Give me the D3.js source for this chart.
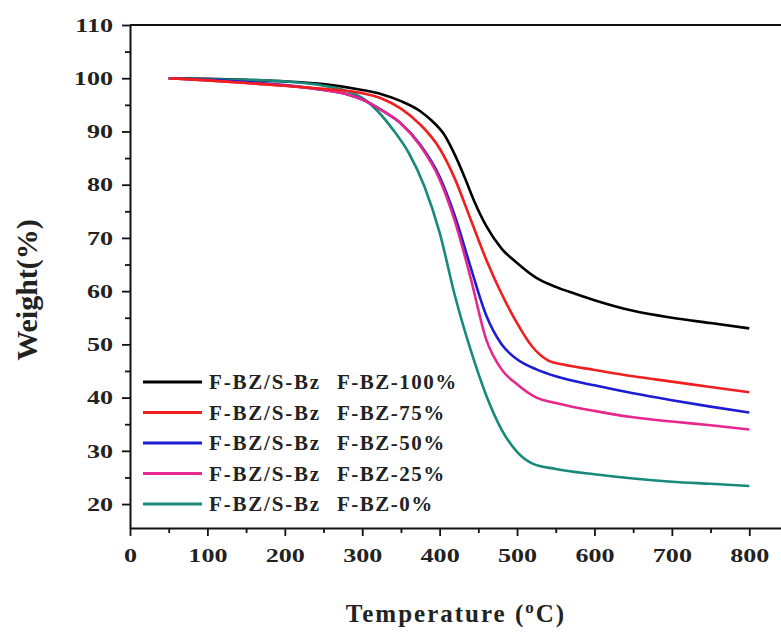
<!DOCTYPE html>
<html>
<head>
<meta charset="utf-8">
<script src="https://cdn.jsdelivr.net/npm/d3@7"></script>
<style>
  body { margin: 0; background: #fff; }
  svg { display: block; }
  text { font-family: "Liberation Serif", "Times New Roman", serif; font-weight: bold; fill: #222; }
</style>
</head>
<body>
<svg width="781" height="633"></svg>
<script>
// temperature (C) and weight (%)
const temps100 = [50, 100, 150, 200, 250, 300, 325, 350, 375, 390, 405, 420, 432, 445, 460, 480, 500, 525, 550, 575, 600, 650, 700, 750, 800];
const weight100 = [100, 99.9, 99.7, 99.4, 98.9, 97.8, 97, 95.7, 93.8, 92, 89.6, 85.5, 81.5, 76.8, 72.3, 68, 65.3, 62.5, 60.8, 59.5, 58.3, 56.3, 55, 54, 53];

const temps75 = [50, 100, 150, 200, 250, 300, 325, 350, 375, 400, 420, 440, 460, 480, 500, 520, 540, 560, 600, 650, 700, 750, 800];
const weight75 = [100, 99.6, 99.1, 98.6, 98, 97.2, 96.2, 94.3, 91.3, 86.8, 81, 73.5, 66, 59.5, 54, 49.5, 47, 46.2, 45.2, 44, 43, 42, 41];

const temps50 = [50, 100, 150, 200, 250, 280, 300, 325, 350, 375, 400, 420, 440, 460, 480, 500, 525, 550, 600, 650, 700, 750, 800];
const weight50 = [100, 99.7, 99.3, 98.7, 97.8, 97, 96, 94, 91.5, 87.5, 81.5, 74, 64.5, 55.5, 50, 47.2, 45.3, 44, 42.3, 40.8, 39.5, 38.3, 37.2];

const temps25 = [50, 100, 150, 200, 250, 280, 300, 325, 350, 375, 400, 420, 440, 460, 480, 500, 525, 550, 600, 650, 700, 750, 800];
const weight25 = [100, 99.6, 99.1, 98.6, 97.8, 97, 96, 94, 91.5, 87.3, 81, 73, 62.5, 51, 45.3, 42.5, 40, 39, 37.5, 36.3, 35.5, 34.8, 34];

const temps0 = [50, 100, 150, 200, 250, 280, 300, 320, 340, 360, 380, 400, 420, 440, 460, 480, 500, 520, 550, 600, 650, 700, 750, 800];
const weight0 = [100, 99.8, 99.7, 99.4, 98.6, 97.6, 96.3, 93.8, 90.3, 86, 79.8, 71, 59, 49, 40.5, 34, 29.8, 27.6, 26.6, 25.6, 24.8, 24.2, 23.8, 23.4];

const seriesNames = ["F-BZ-100%", "F-BZ-75%", "F-BZ-50%", "F-BZ-25%", "F-BZ-0%"];
const seriesColors = ["#000000", "#f01e1e", "#1c1cd2", "#e5278e", "#178a7a"];
const xTicks = [0, 100, 200, 300, 400, 500, 600, 700, 800];
const yTicks = [20, 30, 40, 50, 60, 70, 80, 90, 100, 110];

const series = [
  { name: seriesNames[0], color: seriesColors[0], t: temps100, w: weight100 },
  { name: seriesNames[1], color: seriesColors[1], t: temps75, w: weight75 },
  { name: seriesNames[2], color: seriesColors[2], t: temps50, w: weight50 },
  { name: seriesNames[3], color: seriesColors[3], t: temps25, w: weight25 },
  { name: seriesNames[4], color: seriesColors[4], t: temps0, w: weight0 }
];

const svg = d3.select("svg");
const plotLeft = 130, plotTop = 25, plotBottom = 528, plotRight = 781;

// the plot box runs past the right edge of the picture
const x = d3.scaleLinear().domain([0, 841]).range([plotLeft, plotRight]);
const y = d3.scaleLinear().domain([15.5, 110]).range([plotBottom, plotTop]);

// minor ticks
const xMinor = d3.range(50, 841, 100);
const yMinor = d3.range(25, 110, 10);

const xAxis = svg.append("g").attr("transform", `translate(0,${plotBottom})`)
  .call(d3.axisBottom(x).tickValues(xTicks).tickSize(8).tickSizeOuter(0).tickPadding(8).tickFormat(d3.format("d")));
svg.append("g").attr("transform", `translate(0,${plotBottom})`)
  .call(d3.axisBottom(x).tickValues(xMinor).tickSize(5).tickSizeOuter(0).tickFormat(""))
  .select(".domain").remove();

const yAxis = svg.append("g").attr("transform", `translate(${plotLeft},0)`)
  .call(d3.axisLeft(y).tickValues(yTicks).tickSize(8).tickSizeOuter(0).tickFormat(d3.format("d")));
svg.append("g").attr("transform", `translate(${plotLeft},0)`)
  .call(d3.axisLeft(y).tickValues(yMinor).tickSize(5).tickSizeOuter(0).tickFormat(""))
  .select(".domain").remove();

svg.selectAll(".domain").attr("stroke", "#111").attr("stroke-width", 2);
svg.selectAll(".tick line").attr("stroke", "#111").attr("stroke-width", 1.8);

// tick labels look stretched sideways in the original
xAxis.selectAll(".tick text")
  .attr("font-size", 18).attr("font-family", null).attr("fill", "#222")
  .attr("y", 0).attr("dy", null)
  .attr("transform", "translate(0,34) scale(1.45,1)");
yAxis.selectAll(".tick text")
  .attr("font-size", 18).attr("font-family", null).attr("fill", "#222")
  .attr("x", 0).attr("dy", "0.35em")
  .attr("transform", "translate(-17,0) scale(1.45,1)");

// top border of the box
svg.append("line")
  .attr("x1", plotLeft).attr("x2", plotRight).attr("y1", plotTop).attr("y2", plotTop)
  .attr("stroke", "#111").attr("stroke-width", 2);

// curves
const line = d3.line()
  .x(d => x(d[0]))
  .y(d => y(d[1]))
  .curve(d3.curveMonotoneX);

const drawOrder = [0, 4, 2, 3, 1];
drawOrder.forEach(i => {
  const s = series[i];
  svg.append("path")
    .datum(s.t.map((t, j) => [t, s.w[j]]))
    .attr("fill", "none")
    .attr("stroke", s.color)
    .attr("stroke-width", 2.6)
    .attr("stroke-linejoin", "round")
    .attr("d", line);
});

// legend
const legend = svg.append("g");
series.forEach((s, i) => {
  const ly = 382 + i * 30.5;
  legend.append("line")
    .attr("x1", 143).attr("x2", 202).attr("y1", ly).attr("y2", ly)
    .attr("stroke", s.color).attr("stroke-width", 2.8);
  legend.append("text")
    .attr("x", 209).attr("y", ly + 7)
    .attr("font-size", 21).attr("letter-spacing", 1.8)
    .text("F-BZ/S-Bz");
  legend.append("text")
    .attr("x", 337).attr("y", ly + 7)
    .attr("font-size", 21).attr("letter-spacing", 1.5)
    .text(s.name);
});

// axis titles
const xt = svg.append("text")
  .attr("x", 456).attr("y", 622)
  .attr("text-anchor", "middle")
  .attr("font-size", 25).attr("letter-spacing", 2);
xt.append("tspan").text("Temperature (");
xt.append("tspan").attr("font-size", 17).attr("dy", -9).text("o");
xt.append("tspan").attr("dy", 9).text("C)");

svg.append("text")
  .attr("transform", "translate(37,290) rotate(-90)")
  .attr("text-anchor", "middle")
  .attr("font-size", 30)
  .text("Weight(%)");
</script>
</body>
</html>
